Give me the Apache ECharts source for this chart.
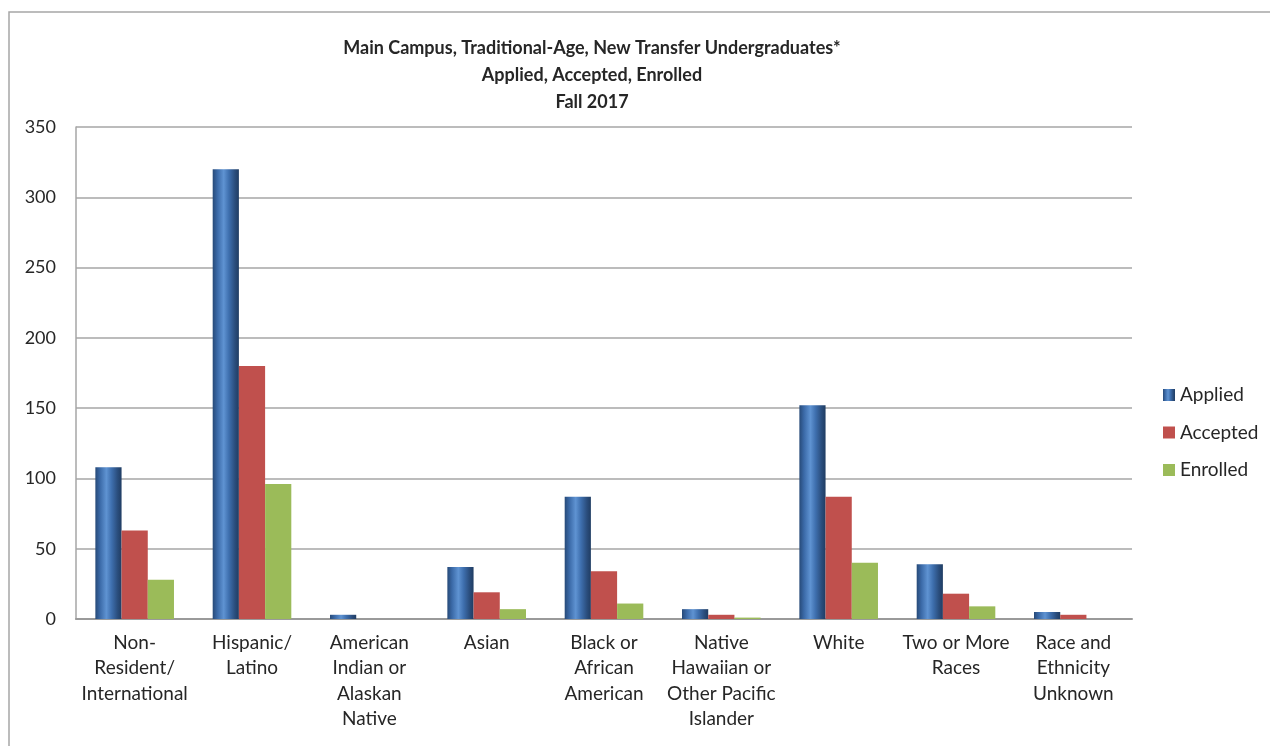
<!DOCTYPE html>
<html>
<head>
<meta charset="utf-8">
<script src="https://cdn.jsdelivr.net/npm/echarts@6/dist/echarts.min.js"></script>
<style>
html,body{margin:0;padding:0;background:#fff;}
#chart{width:1270px;height:746px;}
</style>
</head>
<body>
<div id="chart"></div>
<script>
const categories = [
  "Non-\nResident/\nInternational",
  "Hispanic/\nLatino",
  "American\nIndian or\nAlaskan\nNative",
  "Asian",
  "Black or\nAfrican\nAmerican",
  "Native\nHawaiian or\nOther Pacific\nIslander",
  "White",
  "Two or More\nRaces",
  "Race and\nEthnicity\nUnknown"
];
const seriesNames = ["Applied", "Accepted", "Enrolled"];
const applied  = [108, 320, 3, 37, 87, 7, 152, 39, 5];
const accepted = [63, 180, 0, 19, 34, 3, 87, 18, 3];
const enrolled = [28, 96, 0, 7, 11, 1, 40, 9, 0];
const titleLines = [
  "Main Campus, Traditional-Age, New Transfer Undergraduates*",
  "Applied, Accepted, Enrolled",
  "Fall 2017"
];

const FONT = "Lato, 'Open Sans', sans-serif";
const TXT = '#262626';

const appliedColor = new echarts.graphic.LinearGradient(0, 0, 1, 0, [
  {offset: 0, color: '#274a78'},
  {offset: 0.18, color: '#3b6aa8'},
  {offset: 0.42, color: '#5f93d2'},
  {offset: 0.62, color: '#3e6fae'},
  {offset: 0.85, color: '#2a4d7c'},
  {offset: 1, color: '#203d63'}
]);

const chart = echarts.init(document.getElementById('chart'));
chart.setOption({
  animation: false,
  backgroundColor: '#fff',
  textStyle: {fontFamily: FONT},
  graphic: [{
    type: 'rect', z: -10, silent: true,
    shape: {x: 9, y: 12, width: 1300, height: 800},
    style: {fill: 'none', stroke: '#a6a6a6', lineWidth: 1.5}
  }],
  title: {
    text: titleLines.join('\n'),
    left: 587,
    textAlign: 'center',
    top: 30,
    textStyle: {fontFamily: FONT, fontWeight: 'bold', fontSize: 18, lineHeight: 27, color: TXT}
  },
  legend: {
    orient: 'vertical',
    left: 1158,
    top: 380,
    itemWidth: 12,
    itemHeight: 12,
    itemGap: 17.5,
    icon: 'rect',
    textStyle: {fontFamily: FONT, fontSize: 19, lineHeight: 20, color: TXT, padding: [0, 0, 0, 0]},
    data: seriesNames
  },
  grid: {left: 76, right: 138, top: 127, bottom: 127, containLabel: false},
  xAxis: {
    type: 'category',
    data: categories,
    axisLine: {lineStyle: {color: '#9a9a9a', width: 2}},
    axisTick: {show: false},
    axisLabel: {interval: 0, margin: 11, fontFamily: FONT, fontSize: 19, lineHeight: 25.5, color: TXT, align: 'center'}
  },
  yAxis: {
    type: 'value',
    min: 0, max: 350, interval: 50,
    axisLine: {show: true, lineStyle: {color: '#a6a6a6', width: 1.5}},
    axisTick: {show: false},
    axisLabel: {margin: 20, fontFamily: FONT, fontSize: 18, color: TXT},
    splitLine: {lineStyle: {color: '#a6a6a6', width: 1.5}}
  },
  series: [
    {name: seriesNames[0], type: 'bar', data: applied, barGap: '0%', barCategoryGap: '33%',
     itemStyle: {color: appliedColor}},
    {name: seriesNames[1], type: 'bar', data: accepted, barGap: '0%', barCategoryGap: '33%',
     itemStyle: {color: '#c0504d'}},
    {name: seriesNames[2], type: 'bar', data: enrolled, barGap: '0%', barCategoryGap: '33%',
     itemStyle: {color: '#9bbb59'}}
  ]
});
</script>
</body>
</html>
